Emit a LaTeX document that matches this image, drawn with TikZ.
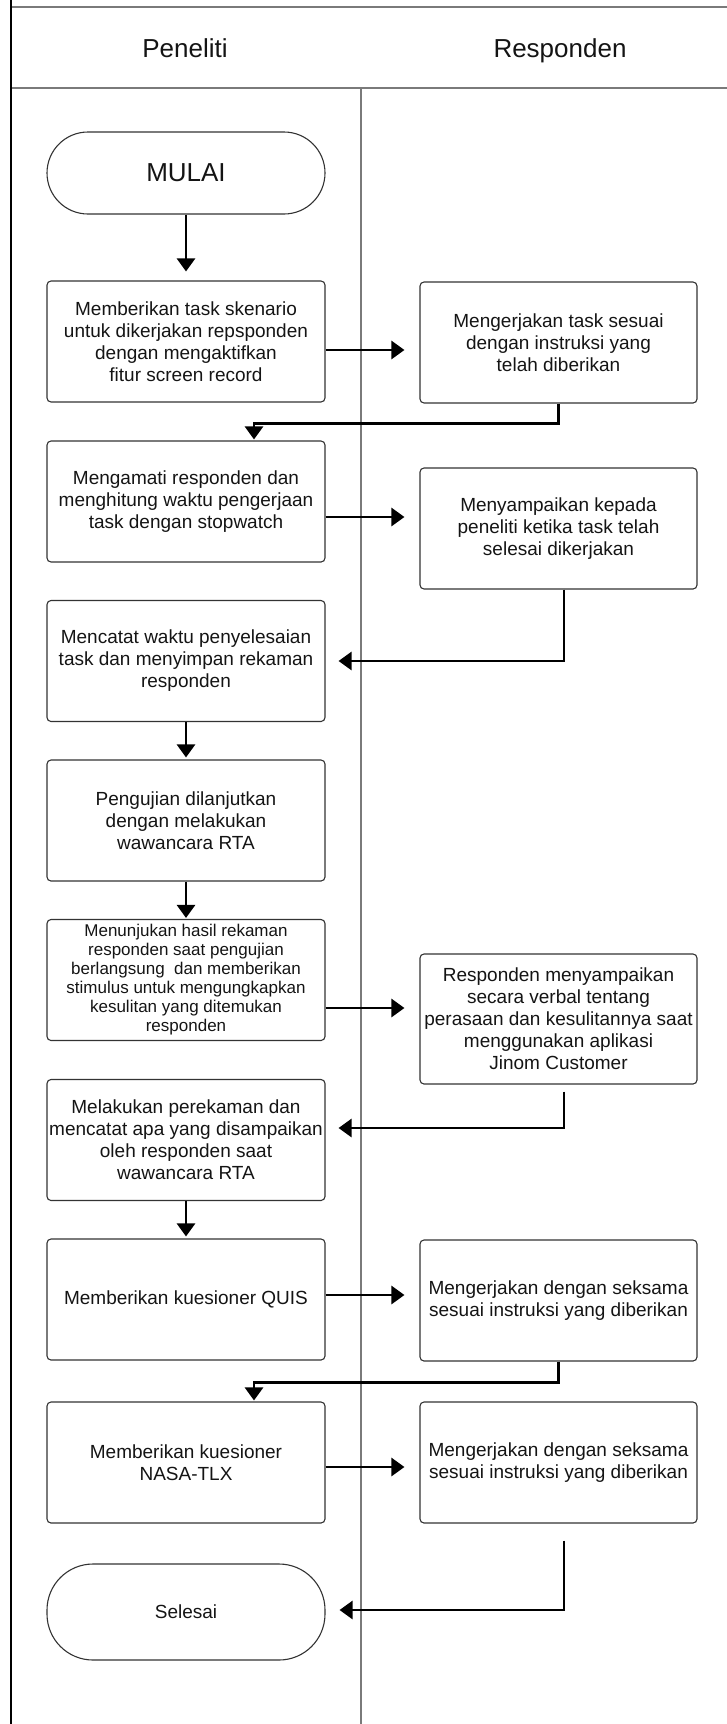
\documentclass[tikz,border=0pt]{standalone}
\usepackage{fontspec}
\setmainfont{Liberation Sans}
\usepackage{tikz}
\usetikzlibrary{arrows.meta}

\definecolor{laneline}{HTML}{7A7A7A}
\definecolor{boxline}{HTML}{333333}
\definecolor{ink}{HTML}{141414}

\begin{document}
\begin{tikzpicture}[x=1pt,y=-1pt,
        box/.style={draw=boxline, line width=1.1pt, rounded corners=4pt, minimum width=278pt, minimum height=121pt,
            inner sep=0pt, align=center, text=ink, font=\fontsize{19}{22}\selectfont},
        terminal/.style={draw=boxline, line width=1.1pt, minimum width=278pt, inner sep=0pt, align=center, text=ink},
        flow/.style={draw=black, line width=2.7pt, -{Triangle[length=13pt,width=18pt]}},
        lane/.style={draw=laneline, line width=1.5pt},
        title/.style={anchor=base, text=ink, font=\fontsize{26}{30}\selectfont}]
        \useasboundingbox (0,0) rectangle (727,1724);

        % Draw the swimlane frame
        \draw[lane] (11,7) -- (727,7);
        \draw[lane] (11,88) -- (727,88);
        \draw[lane] (361,88) -- (361,1724);
        \draw[black, line width=2pt] (11,0) -- (11,1724);

        % Lane titles
        \node[title] (hdA) at (185,57) {Peneliti};
        \node[title] (hdB) at (560,57) {Responden};

        % Peneliti lane
        \node[terminal, minimum height=82pt, rounded corners=41pt, font=\fontsize{26}{30}\selectfont] (mulai) at (186,173) {MULAI};
        \node[box] (b1) at (186,341.5) {Memberikan task skenario\\untuk dikerjakan repsponden\\dengan mengaktifkan\\fitur screen record};
        \node[box] (b2) at (186,501.5) {Mengamati responden dan\\menghitung waktu pengerjaan\\task dengan stopwatch};
        \node[box] (b3) at (186,661) {Mencatat waktu penyelesaian\\task dan menyimpan rekaman\\responden};
        \node[box] (b4) at (186,820.5) {Pengujian dilanjutkan\\dengan melakukan\\wawancara RTA};
        \node[box, font=\fontsize{17}{19}\selectfont] (b5) at (186,980) {Menunjukan hasil rekaman\\responden saat pengujian\\berlangsung\ \ dan memberikan\\stimulus untuk mengungkapkan\\kesulitan yang ditemukan\\responden};
        \node[box] (b6) at (186,1140) {Melakukan perekaman dan\\mencatat apa yang disampaikan\\oleh responden saat\\wawancara RTA};
        \node[box] (b7) at (186,1299.5) {Memberikan kuesioner QUIS};
        \node[box] (b8) at (186,1462.5) {Memberikan kuesioner\\NASA-TLX};
        \node[terminal, minimum height=96pt, rounded corners=46pt, font=\fontsize{19}{22}\selectfont] (sel) at (186,1612) {Selesai};

        % Responden lane
        \node[box, minimum width=277pt] (r1) at (558.5,342.5) {Mengerjakan task sesuai\\dengan instruksi yang\\telah diberikan};
        \node[box, minimum width=277pt] (r2) at (558.5,528.5) {Menyampaikan kepada\\peneliti ketika task telah\\selesai dikerjakan};
        \node[box, minimum width=277pt, minimum height=130pt] (r5) at (558.5,1019) {Responden menyampaikan\\secara verbal tentang\\perasaan dan kesulitannya saat\\menggunakan aplikasi\\Jinom Customer};
        \node[box, minimum width=277pt] (r7) at (558.5,1300.5) {Mengerjakan dengan seksama\\sesuai instruksi yang diberikan};
        \node[box, minimum width=277pt] (r8) at (558.5,1462.5) {Mengerjakan dengan seksama\\sesuai instruksi yang diberikan};

        % Arrows down the Peneliti lane
        \draw[flow, shorten >=9pt] (mulai) -- (b1);
        \draw[flow, shorten >=2pt] (b3) -- (b4);
        \draw[flow, shorten >=1pt] (b4) -- (b5);
        \draw[flow, shorten >=2pt] (b6) -- (b7);

        % Arrows across to Responden
        \draw[flow, shorten >=15pt] ([yshift=-8.5pt]b1.east) -- ([yshift=-8.5pt]b1.east -| r1.west);
        \draw[flow, shorten >=15pt] ([yshift=-15.5pt]b2.east) -- ([yshift=-15.5pt]b2.east -| r2.west);
        \draw[flow, shorten >=15pt] ([yshift=-28pt]b5.east) -- ([yshift=-28pt]b5.east -| r5.west);
        \draw[flow, shorten >=15pt] ([yshift=4.5pt]b7.east) -- ([yshift=4.5pt]b7.east -| r7.west);
        \draw[flow, shorten >=15pt] ([yshift=-4.5pt]b8.east) -- ([yshift=-4.5pt]b8.east -| r8.west);

        % Arrows back to Peneliti
        \draw[flow, shorten >=1pt] (r1.south) -- ++(0,20) -| ([xshift=68pt]b2.north);
        \draw[flow, shorten >=13pt] ([xshift=5.5pt]r2.south) |- (b3.east);
        \draw[flow, shorten >=13pt] ([xshift=5.5pt,yshift=-7pt]r5.south) |- ([yshift=12pt]b6.east);
        \draw[flow, shorten >=1pt] (r7.south) -- ++(0,21) -| ([xshift=68pt]b8.north);
        \draw[flow, shorten >=14pt] ([xshift=5.5pt,yshift=-17pt]r8.south) |- ([yshift=2pt]sel.east);
    \end{tikzpicture}
\end{document}
